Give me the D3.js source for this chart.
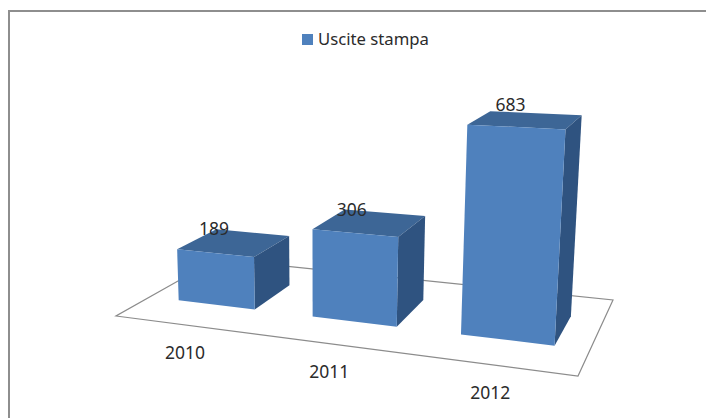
<!DOCTYPE html>
<html><head><meta charset="utf-8">
<script src="https://cdn.jsdelivr.net/npm/d3@7"></script>
<style>html,body{margin:0;padding:0;background:#fff}svg{display:block}text{font-family:"Noto Sans",sans-serif;fill:#2b2b2b}</style>
</head><body><div id="c"></div>
<script>
const categories = ["2010","2011","2012"];
const values = [189,306,683];
const seriesName = "Uscite stampa";

const W=706,H=418;
const svg=d3.select("#c").append("svg").attr("width",W).attr("height",H);
svg.append("path").attr("d","M9,430V11H706").attr("fill","none").attr("stroke","#8e8e8e").attr("stroke-width",2);

// perspective camera: unit floor square -> image quad
const q=[[116,316],[578,376],[613,300],[217,259]];
const [[x0,y0],[x1,y1],[x2,y2],[x3,y3]]=q;
const dx1=x1-x2,dx2=x3-x2,sx=x0-x1+x2-x3,dy1=y1-y2,dy2=y3-y2,sy=y0-y1+y2-y3;
const den=dx1*dy2-dx2*dy1;
const g=(sx*dy2-dx2*sy)/den,h=(dx1*sy-sx*dy1)/den;
const a=x1-x0+g*x1,b=x3-x0+h*x3,d=y1-y0+g*y1,e=y3-y0+h*y3;
const VP=[320,5000];
const kY=0.0405;
function proj(u,t,v){
  const s=-kY*t;
  const w=g*u+h*v+1+s;
  return [(a*u+b*v+x0+s*VP[0])/w,(d*u+e*v+y0+s*VP[1])/w];
}
const xs=d3.scaleBand().domain(categories).range([0.006,1]).paddingInner(0.42).paddingOuter(0.21);
const ys=d3.scaleLinear().domain([0,683]).range([0,1]);
const zFront=0.3,zBack=0.7;
const line=d3.line();
const poly=p=>line(p)+"Z";

svg.append("path").attr("d",poly(q)).attr("fill","none").attr("stroke","#8c8c8c").attr("stroke-width",1.2);

categories.forEach((c,i)=>{
  const u0=xs(c),u1=u0+xs.bandwidth(),t=ys(values[i]);
  const G=svg.append("g");
  G.append("path").attr("d",poly([proj(u0,t,zFront),proj(u1,t,zFront),proj(u1,t,zBack),proj(u0,t,zBack)])).attr("fill","#3d6696");
  G.append("path").attr("d",poly([proj(u1,0,zFront),proj(u1,0,zBack),proj(u1,t,zBack),proj(u1,t,zFront)])).attr("fill","#2f5380");
  G.append("path").attr("d",poly([proj(u0,0,zFront),proj(u1,0,zFront),proj(u1,t,zFront),proj(u0,t,zFront)])).attr("fill","#4f81bd");
});
categories.forEach((c,i)=>{
  const um=xs(c)+xs.bandwidth()/2,t=ys(values[i]);
  const pt=proj(um,t,zFront);
  svg.append("text").attr("x",pt[0]-6*um).attr("y",pt[1]-19+3.5*um).attr("text-anchor","middle").attr("font-size",17.5).text(values[i]);
  const f=proj(um,0,0);
  svg.append("text").attr("x",f[0]).attr("y",f[1]+34.5).attr("text-anchor","middle").attr("font-size",17.5).text(c);
});
svg.append("rect").attr("x",302).attr("y",34).attr("width",11).attr("height",11).attr("fill","#4f81bd");
svg.append("text").attr("x",318).attr("y",45).attr("font-size",16.7).text(seriesName);
</script></body></html>
